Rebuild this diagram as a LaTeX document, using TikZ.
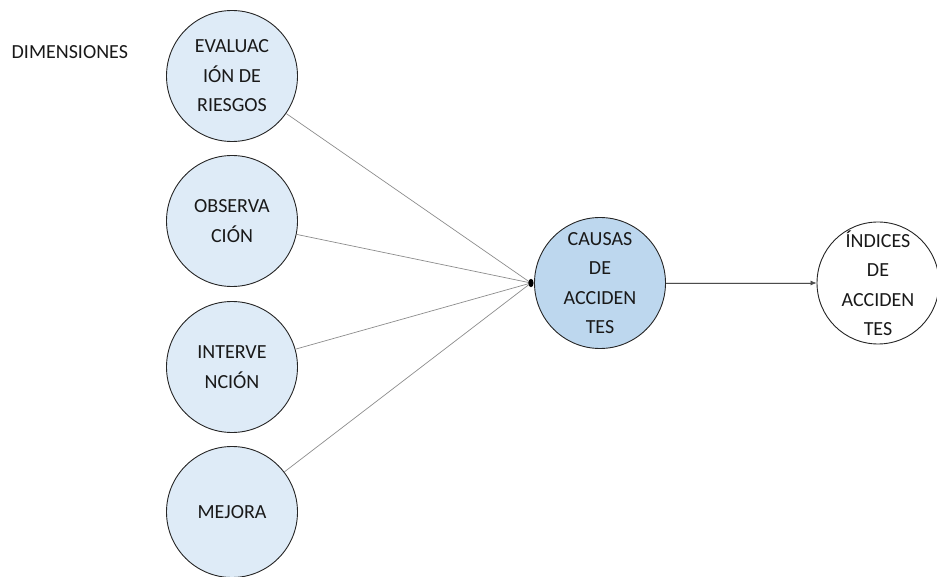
\documentclass[tikz,border=0pt]{standalone}
\usepackage{fontspec}
\setmainfont{Carlito}
\usetikzlibrary{arrows.meta}
\definecolor{dimfill}{HTML}{DEEBF7}
\definecolor{hubfill}{HTML}{BDD7EE}
\definecolor{edge}{HTML}{262626}
\definecolor{linkgray}{HTML}{8C8C8C}
\tikzset{
  bubble/.style={circle, draw=edge, line width=0.9pt, minimum size=131pt, inner sep=0pt},
  dimbubble/.style={bubble, fill=dimfill},
  hubbubble/.style={bubble, fill=hubfill},
  outbubble/.style={bubble, fill=white, minimum size=122pt},
  caption/.style={align=center, text=black!90, font=\fontsize{20}{29.5}\selectfont, inner sep=0pt},
  link/.style={draw=linkgray, line width=0.7pt},
}
\begin{document}
\begin{tikzpicture}[x=1pt, y=-1pt]
\useasboundingbox (0,0) rectangle (937,577);

% header
\node[caption, anchor=west] (dimlabel) at (11.5,52) {DIMENSIONES};

% dimension bubbles
\node[dimbubble] (eval) at (232,76) {};
\node[caption] at (eval) {EVALUAC\\IÓN DE\\RIESGOS};
\node[dimbubble] (obs) at (232,221) {};
\node[caption] at (obs) {OBSERVA\\CIÓN};
\node[dimbubble] (inter) at (232,367) {};
\node[caption] at (inter) {INTERVE\\NCIÓN};
\node[dimbubble] (mej) at (232,512) {};
\node[caption] at (mej) {MEJORA};

% central and outcome bubbles
\node[hubbubble] (causas) at (600,283) {};
\node[caption] at (causas) {CAUSAS\\DE\\ACCIDEN\\TES};
\node[outbubble] (indices) at (878,283) {};
\node[caption] at (indices) {ÍNDICES\\DE\\ACCIDEN\\TES};

% convergence point
\coordinate (hub) at (531,283);
\draw[link] (eval) -- (hub);
\draw[link] (obs) -- (hub);
\draw[link] (inter) -- (hub);
\draw[link] (mej) -- (hub);
\fill[black] (hub) ellipse [x radius=2.6pt, y radius=4.2pt];

\draw[link, -{Latex[length=6pt,width=5pt]}, draw=black!70, fill=black] (causas) -- (indices);
\end{tikzpicture}
\end{document}
